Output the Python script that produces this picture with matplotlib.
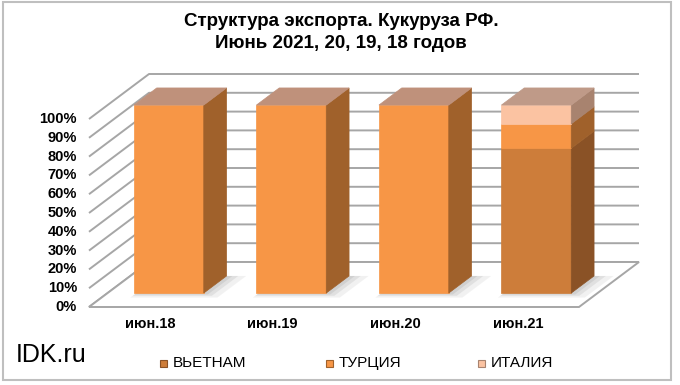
import matplotlib
matplotlib.use("Agg")
import matplotlib.pyplot as plt
from matplotlib.patches import Polygon, Rectangle

plt.rcParams['font.family'] = ['Liberation Sans', 'DejaVu Sans']

# data
categories = ['июн.18', 'июн.19', 'июн.20', 'июн.21']
series = ['ВЬЕТНАМ', 'ТУРЦИЯ', 'ИТАЛИЯ']
vietnam = [0, 0, 0, 77]
turkey = [100, 100, 100, 13]
italy = [0, 0, 0, 10]
ticks = [0, 10, 20, 30, 40, 50, 60, 70, 80, 90, 100]

# colours: front, side, top
colors = {
    'ВЬЕТНАМ': ('#CD7D3A', '#8A5226', '#B98A70'),
    'ТУРЦИЯ': ('#F79646', '#A0612B', '#BF917B'),
    'ИТАЛИЯ': ('#FBC3A2', '#A8836F', '#BF9A88'),
}

# fake 3d layout (pixels)
x0, y0 = 89, 307          # front-left floor corner
cat_w = 122.5             # width of one category
unit = 1.88               # pixels per percent
ddx, ddy = 60, 45         # full depth offset
bar_frac = 0.57
d_front, d_back = 0.31, 0.69


def proj(xc, v, d):
    return (x0 + xc * cat_w + d * ddx, y0 - v * unit - d * ddy)


fig = plt.figure(figsize=(6.8, 3.85), dpi=100)
ax = fig.add_axes([0, 0, 1, 1])
ax.set_xlim(0, 680)
ax.set_ylim(385, 0)
ax.axis('off')

grid = '#A6A6A6'
n = len(categories)

# walls
for t in ticks:
    p0 = proj(0, t, 0)
    p1 = proj(0, t, 1)
    p2 = proj(n, t, 1)
    ax.plot([p0[0], p1[0], p2[0]], [p0[1], p1[1], p2[1]], color=grid, lw=1.4,
            solid_capstyle='butt', zorder=1)
    ax.text(p0[0] - 12, p0[1], f'{t}%', ha='right', va='center', fontsize=10.5,
            fontweight='bold', color='black')

# floor
floor = [proj(0, 0, 0), proj(n, 0, 0), proj(n, 0, 1), proj(0, 0, 1)]
ax.add_patch(Polygon(floor, closed=True, facecolor='white', edgecolor=grid, lw=1.4, zorder=2))

# bars
for i in range(n):
    xl = i + (1 - bar_frac) / 2
    xr = xl + bar_frac
    # soft shadow on the floor
    for k, a in [(0.10, 0.10), (0.06, 0.14), (0.03, 0.16)]:
        sh = [proj(xl + 0.02, 0, d_front - k), proj(xr + k * 1.6, 0, d_front - k),
              proj(xr + k * 1.6, 0, d_back), proj(xl + 0.02, 0, d_back)]
        ax.add_patch(Polygon(sh, closed=True, facecolor='#7F7F7F', edgecolor='none', alpha=a, zorder=3))
    base = 0
    vals = [vietnam[i], turkey[i], italy[i]]
    top_name = None
    for name, v in zip(series, vals):
        if v <= 0:
            continue
        fc, sc, tc = colors[name]
        front = [proj(xl, base, d_front), proj(xr, base, d_front),
                 proj(xr, base + v, d_front), proj(xl, base + v, d_front)]
        side = [proj(xr, base, d_front), proj(xr, base, d_back),
                proj(xr, base + v, d_back), proj(xr, base + v, d_front)]
        ax.add_patch(Polygon(front, closed=True, facecolor=fc, edgecolor=fc, lw=0.5, zorder=4))
        ax.add_patch(Polygon(side, closed=True, facecolor=sc, edgecolor=sc, lw=0.5, zorder=4))
        base += v
        top_name = name
    tc = colors[top_name][2]
    top = [proj(xl, base, d_front), proj(xr, base, d_front),
           proj(xr, base, d_back), proj(xl, base, d_back)]
    ax.add_patch(Polygon(top, closed=True, facecolor=tc, edgecolor=tc, lw=0.5, zorder=5))

# category labels
for i, c in enumerate(categories):
    x, _ = proj(i + 0.5, 0, 0)
    ax.text(x, 324, c, ha='center', va='center', fontsize=10.5, fontweight='bold')

# title
ax.text(341, 22, 'Структура экспорта. Кукуруза РФ.', ha='center', va='center',
        fontsize=13.5, fontweight='bold')
ax.text(341, 44, 'Июнь 2021, 20, 19, 18 годов', ha='center', va='center',
        fontsize=13.5, fontweight='bold')

# legend
leg_x = [163, 329, 481]
for lx, name in zip(leg_x, series):
    fc, sc, tc = colors[name]
    ax.add_patch(Rectangle((lx - 3.5, 359.5), 7, 7, facecolor=fc, edgecolor=sc, lw=0.8, zorder=5))
    ax.text(lx + 10, 363, name, ha='left', va='center', fontsize=11)

ax.text(16, 355, 'IDK.ru', ha='left', va='center', fontsize=18)

# outer border
ax.add_patch(Rectangle((3, 2), 668, 378, facecolor='none', edgecolor='#BFBFBF', lw=1.5, zorder=6))

fig.savefig('out.png', dpi=100)
